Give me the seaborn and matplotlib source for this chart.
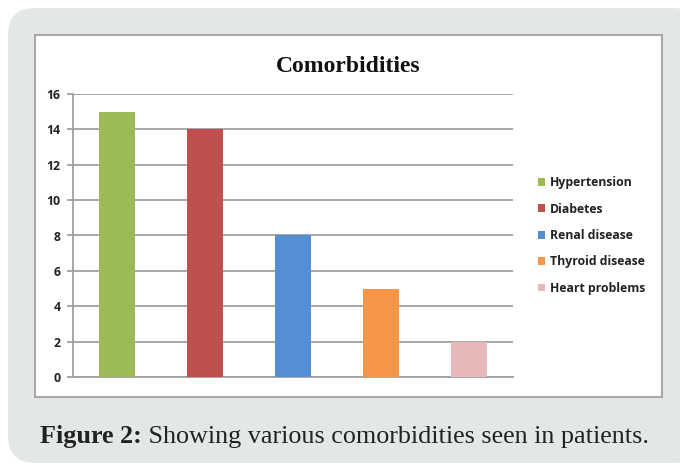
import matplotlib
matplotlib.use("Agg")
import matplotlib.pyplot as plt
from matplotlib.patches import FancyBboxPatch, Rectangle
import seaborn as sns
import pandas as pd

categories = ["Hypertension", "Diabetes", "Renal disease", "Thyroid disease", "Heart problems"]
values = [15, 14, 8, 5, 2]
colors = ["#9BBB59", "#C0504D", "#558ED5", "#F79646", "#E6B9B8"]
yticks = [0, 2, 4, 6, 8, 10, 12, 14, 16]
title = "Comorbidities"
caption_bold = "Figure 2:"
caption_rest = " Showing various comorbidities seen in patients."

sns.set_theme(style="white")
plt.rcParams['font.family'] = ['Open Sans', 'DejaVu Sans']

W, H = 680, 465
fig = plt.figure(figsize=(W / 100, H / 100), dpi=100)
fig.patch.set_facecolor("white")

def fx(px):
    return px / W

def fy(py):
    return 1 - py / H

# gray rounded panel
panel = FancyBboxPatch((fx(8), fy(463)), fx(700) - fx(8), fy(8) - fy(463),
                       boxstyle="round,pad=0,rounding_size=0.04",
                       transform=fig.transFigure, facecolor="#e4e7e8",
                       edgecolor="none", zorder=0, mutation_aspect=W / H)
fig.patches.append(panel)

# white chart box
box = Rectangle((fx(35), fy(397)), fx(662) - fx(35), fy(35) - fy(397),
                transform=fig.transFigure, facecolor="white",
                edgecolor="#a8a8a8", linewidth=1.5, zorder=1)
fig.patches.append(box)

ax = fig.add_axes([fx(73), fy(377), fx(513) - fx(73), fy(94) - fy(377)])
ax.set_zorder(2)
df = pd.DataFrame({"cat": categories, "val": values})
sns.barplot(data=df, x="cat", y="val", hue="cat", palette=colors,
            width=0.4, ax=ax, legend=True, saturation=1, linewidth=0,
            zorder=3)

ax.set_ylim(0, 16)
ax.set_yticks(yticks, labels=[str(v) for v in yticks], fontweight="bold",
              color="#222222", fontsize=8.8)
ax.set_xlim(-0.5, len(categories) - 0.5)
ax.set_xticks([])
ax.set_xlabel("")
ax.set_ylabel("")
ax.set_facecolor("none")
ax.grid(axis="y", color="#a0a0a0", linewidth=1.3, zorder=0)
ax.set_axisbelow(True)
for s in ["top", "right"]:
    ax.spines[s].set_visible(False)
for s in ["left", "bottom"]:
    ax.spines[s].set_color("#a0a0a0")
    ax.spines[s].set_linewidth(1.3)
ax.tick_params(axis="y", left=True, length=4, width=1.3, color="#a0a0a0", pad=5)

sns.move_legend(ax, loc="upper left", bbox_to_anchor=(fx(532), fy(170)),
                bbox_transform=fig.transFigure, frameon=False, title=None,
                prop={"family": ["Open Sans", "DejaVu Sans"], "weight": "bold", "size": 8.8},
                handlelength=0.6, handleheight=0.6,
                handletextpad=0.35, labelspacing=1.1, borderpad=0)
for t in ax.get_legend().get_texts():
    t.set_color("#222222")

fig.text(fx(348), fy(72), title, ha="center", va="baseline",
         fontsize=17, fontweight="bold", family=["Liberation Serif", "DejaVu Serif"],
         color="#111111", zorder=5)

t1 = fig.text(fx(40), fy(443), caption_bold, ha="left", va="baseline",
              fontsize=18.8, fontweight="bold",
              family=["Liberation Serif", "DejaVu Serif"], color="#222222")
fig.canvas.draw()
bb = t1.get_window_extent()
fig.text(bb.x1 / W, fy(443), caption_rest, ha="left", va="baseline",
         fontsize=18.8, family=["Liberation Serif", "DejaVu Serif"], color="#222222")

fig.savefig("out.png", dpi=100)
